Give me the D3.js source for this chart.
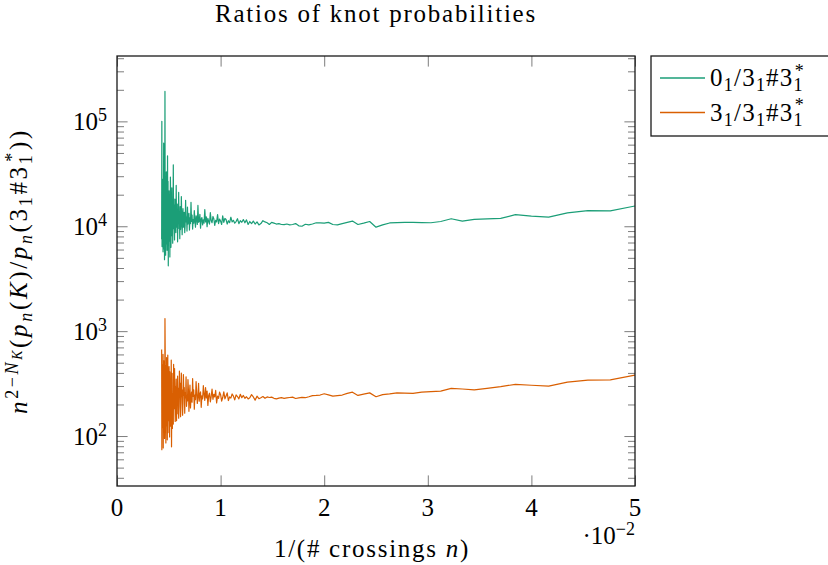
<!DOCTYPE html>
<html>
<head>
<meta charset="utf-8">
<script src="https://cdn.jsdelivr.net/npm/d3@7"></script>
</head>
<body style="margin:0;background:#fff">
<svg id="chart" width="828" height="565"></svg>
<script>
// Crossing numbers n = 20 ... 232; x is plotted as 1/n
const firstCrossing = 20;
const lastCrossing = 232;

// Ratio 0_1 / (3_1 # 3_1*), one value per n starting at n = 20
const ratioUnknot = [
  15600, 14000, 14100, 13400, 12200, 12500, 12900, 11900, 11750, 11650,
  11200, 11800, 11100, 10800, 10850, 10900, 10900, 10850, 10750, 10300,
  9800, 11100, 10700, 10400, 11200, 10900, 10600, 10300, 10400, 10900,
  10700, 10750, 10800, 10500, 10300, 10450, 10000, 10100, 10600, 10400,
  10300, 10500, 10350, 10400, 10600, 10500, 10700, 10900, 10400, 10800,
  11000, 11300, 10600, 10300, 11000, 10500, 11200, 10600, 11100, 10400,
  11500, 10800, 11600, 10900, 11300, 10600, 11800, 11100, 10700, 11400,
  11000, 12200, 10800, 11300, 10500, 11600, 11900, 10900, 12600, 10400,
  11200, 11700, 10600, 12900, 11000, 11400, 10200, 11800, 12400, 10800,
  11300, 13500, 10500, 11100, 11900, 9900, 12300, 11000, 14400, 10700,
  11500, 10300, 12100, 11700, 9600, 13000, 11200, 10900, 15800, 10400,
  11900, 12600, 9800, 11300, 14100, 10700, 11600, 9400, 12800, 11100,
  16900, 10600, 12000, 9200, 13300, 11400, 10500, 15200, 9000, 12200,
  11000, 17700, 10200, 8700, 13600, 11800, 9800, 14700, 12100, 8300,
  12600, 19200, 10400, 9300, 15400, 7600, 12900, 11100, 21000, 9500,
  13400, 7100, 16300, 11600, 9800, 24500, 8700, 13200, 10300, 18200,
  7400, 12400, 16000, 9500, 38500, 11200, 6900, 14700, 10100, 23300,
  8100, 12800, 6300, 17900, 29500, 9900, 5100, 15300, 11700, 21800,
  7200, 13100, 4200, 26800, 10600, 47000, 8300, 5900, 18500, 12300,
  33000, 6800, 14400, 5300, 23100, 9700, 193000, 7400, 4800, 41000,
  11900, 6100, 62000, 9000, 16500, 5700, 28000, 12500, 7800, 19500,
  6400, 100000, 7500
];

// Ratio 3_1 / (3_1 # 3_1*), one value per n starting at n = 20
const ratioTrefoil = [
  381, 343, 341, 327, 299, 305, 311, 296, 285, 276,
  281, 285, 268, 265, 262, 255, 257, 258, 252, 248,
  237, 258, 251, 244, 262, 255, 246, 243, 240, 247,
  253, 246, 244, 243, 237, 232, 234, 231, 228, 235,
  233, 231, 229, 232, 230, 226, 229, 235, 233, 236,
  229, 238, 232, 227, 240, 220, 236, 248, 232, 226,
  237, 229, 244, 232, 250, 226, 238, 247, 221, 240,
  252, 230, 236, 218, 258, 241, 226, 264, 233, 215,
  248, 262, 229, 240, 207, 272, 236, 250, 224, 281,
  238, 212, 256, 244, 196, 268, 231, 290, 219, 251,
  302, 226, 242, 188, 264, 250, 215, 318, 236, 205,
  259, 331, 222, 246, 180, 275, 239, 352, 210, 262,
  228, 185, 306, 247, 172, 268, 345, 216, 240, 192,
  367, 231, 260, 165, 289, 244, 385, 206, 158, 275,
  237, 398, 214, 153, 320, 252, 417, 190, 148, 286,
  228, 372, 163, 260, 140, 350, 215, 298, 138, 245,
  440, 182, 300, 482, 130, 255, 205, 118, 395, 228,
  79, 530, 170, 310, 124, 248, 410, 98, 300, 460,
  175, 140, 350, 108, 590, 220, 92, 420, 165, 560,
  125, 300, 86, 470, 210, 640, 1320, 135, 95, 380,
  175, 520, 110, 450, 77, 600, 150, 350, 120, 480,
  290, 74, 670
];

const xTicks = [0, 0.01, 0.02, 0.03, 0.04, 0.05];
const xTickLabels = ["0", "1", "2", "3", "4", "5"];
const yTicks = [1e2, 1e3, 1e4, 1e5];
const yTickExponents = ["2", "3", "4", "5"];
const seriesColors = ["#1b9e77", "#d95f02"];

const crossings = d3.range(firstCrossing, lastCrossing + 1);

const svg = d3.select("#chart");
const FS = 25;
const SERIF = '"Liberation Serif"';

// Plot frame edges
const plotLeft = 117, plotRight = 635, plotTop = 56, plotBottom = 486;

const x = d3.scaleLinear().domain([0, 0.05]).range([plotLeft, plotRight]);
const y = d3.scaleLog().domain([33.4, 4.2e5]).range([plotBottom, plotTop]);

function addText(parent) {
  return parent.append("text").style("font-family", SERIF).attr("fill", "#000").attr("font-size", FS);
}

// Inline math: each part is [text, level, italic, dx]
const LV = {
  b:    { off: 0,            fs: FS },
  sp:   { off: -0.38 * FS,   fs: 0.72 * FS },
  sb:   { off: 0.2 * FS,     fs: 0.72 * FS },
  spsb: { off: -0.22 * FS,   fs: 0.55 * FS }
};
function mathText(sel, parts) {
  let cur = 0;
  parts.forEach(([t, lv, it, dx]) => {
    const L = LV[lv];
    const ts = sel.append("tspan").text(t)
      .style("font-family", SERIF)
      .attr("font-size", L.fs)
      .attr("dy", (L.off - cur).toFixed(2));
    if (it) ts.attr("font-style", "italic");
    if (dx) ts.attr("dx", dx);
    cur = L.off;
  });
  return sel;
}

// Spread glyphs so a label spans the wanted width
function fitWidth(sel, target) {
  const node = sel.node();
  const w = node.getComputedTextLength();
  const n = node.getNumberOfChars();
  const ls = Math.max(-1, Math.min(4, (target - w) / n));
  sel.attr("letter-spacing", ls.toFixed(2));
  return sel;
}

// Minor ticks for the log axis
const minorTicks = [];
for (let e = 1; e <= 5; e++) {
  for (let m = 2; m <= 9; m++) {
    const v = m * Math.pow(10, e);
    if (v > y.domain()[0] && v < y.domain()[1]) minorTicks.push(v);
  }
}

const tickColor = "#7d7d7d";
function styleAxis(g) {
  g.select(".domain").remove();
  g.selectAll(".tick line").attr("stroke", tickColor).attr("stroke-width", 1);
  g.selectAll(".tick text").remove();
}

svg.append("g").attr("transform", `translate(${plotLeft},0)`)
  .call(d3.axisLeft(y).tickValues(minorTicks).tickSize(-7).tickFormat(""))
  .call(styleAxis);
svg.append("g").attr("transform", `translate(${plotRight},0)`)
  .call(d3.axisRight(y).tickValues(minorTicks).tickSize(-7).tickFormat(""))
  .call(styleAxis);
svg.append("g").attr("transform", `translate(${plotLeft},0)`)
  .call(d3.axisLeft(y).tickValues(yTicks).tickSize(-10.6).tickFormat(""))
  .call(styleAxis);
svg.append("g").attr("transform", `translate(${plotRight},0)`)
  .call(d3.axisRight(y).tickValues(yTicks).tickSize(-10.6).tickFormat(""))
  .call(styleAxis);
svg.append("g").attr("transform", `translate(0,${plotBottom})`)
  .call(d3.axisBottom(x).tickValues(xTicks).tickSize(-10.6).tickFormat(""))
  .call(styleAxis);
svg.append("g").attr("transform", `translate(0,${plotTop})`)
  .call(d3.axisTop(x).tickValues(xTicks).tickSize(-10.6).tickFormat(""))
  .call(styleAxis);

// Series
svg.append("clipPath").attr("id", "plotClip")
  .append("rect").attr("x", plotLeft).attr("y", plotTop)
  .attr("width", plotRight - plotLeft).attr("height", plotBottom - plotTop);

const series = [
  crossings.map((n, i) => ({ n, v: ratioUnknot[i] })),
  crossings.map((n, i) => ({ n, v: ratioTrefoil[i] }))
];
const line = d3.line().x(d => x(1 / d.n)).y(d => y(d.v));
const plot = svg.append("g").attr("clip-path", "url(#plotClip)");
series.forEach((s, i) => {
  plot.append("path").datum(s)
    .attr("d", line)
    .attr("fill", "none")
    .attr("stroke", seriesColors[i])
    .attr("stroke-width", 1.2)
    .attr("stroke-linejoin", "round");
});

// Frame
svg.append("rect")
  .attr("x", plotLeft).attr("y", plotTop)
  .attr("width", plotRight - plotLeft).attr("height", plotBottom - plotTop)
  .attr("fill", "none").attr("stroke", "#1a1a1a").attr("stroke-width", 1.3);

// X tick labels
xTicks.forEach((v, i) => {
  addText(svg).attr("x", x(v)).attr("y", 516)
    .attr("text-anchor", "middle")
    .text(xTickLabels[i]);
});

// Y tick labels 10^k
yTicks.forEach((v, i) => {
  const t = addText(svg).attr("x", 107).attr("y", y(v) + 9).attr("text-anchor", "end");
  mathText(t, [["10", "b"], [yTickExponents[i], "sp"]]);
});

// Scale multiplier under the x axis
mathText(addText(svg).attr("x", 635).attr("y", 544).attr("text-anchor", "end"),
  [["·10", "b"], ["−2", "sp"]]);

// Axis titles
fitWidth(mathText(addText(svg).attr("x", 372).attr("y", 557).attr("text-anchor", "middle"),
  [["1/(# crossings ", "b"], ["n", "b", true], [")", "b"]]), 196);

fitWidth(mathText(addText(svg)
    .attr("transform", `translate(27,${(plotTop + plotBottom) / 2}) rotate(-90)`)
    .attr("text-anchor", "middle"),
  [["n", "b", true], ["2−", "sp"], ["N", "sp", true], ["K", "spsb", true],
   ["(", "b"], ["p", "b", true], ["n", "sb", true], ["(", "b"], ["K", "b", true], [")/", "b"],
   ["p", "b", true], ["n", "sb", true], ["(3", "b"], ["1", "sb"], ["#3", "b"], ["1", "sb"],
   ["*", "sp", false, -9], ["))", "b"]]), 295);

// Title
fitWidth(addText(svg).attr("x", (plotLeft + plotRight) / 2).attr("y", 22)
  .attr("text-anchor", "middle")
  .text("Ratios of knot probabilities"), 322);

// Legend
const legend = svg.append("g");
legend.append("rect").attr("x", 651).attr("y", 56).attr("width", 190).attr("height", 80)
  .attr("fill", "#fff").attr("stroke", "#1a1a1a").attr("stroke-width", 1.3);
const legendRows = [
  [["0", "b"], ["1", "sb"], ["/3", "b"], ["1", "sb"], ["#3", "b"], ["1", "sb"], ["*", "sp", false, -9]],
  [["3", "b"], ["1", "sb"], ["/3", "b"], ["1", "sb"], ["#3", "b"], ["1", "sb"], ["*", "sp", false, -9]]
];
legendRows.forEach((parts, i) => {
  const ly = 78 + i * 34.5;
  legend.append("line").attr("x1", 660).attr("x2", 705).attr("y1", ly).attr("y2", ly)
    .attr("stroke", seriesColors[i]).attr("stroke-width", 1.3);
  fitWidth(mathText(addText(legend).attr("x", 710).attr("y", ly + 8), parts), 104);
});
</script>
</body>
</html>
